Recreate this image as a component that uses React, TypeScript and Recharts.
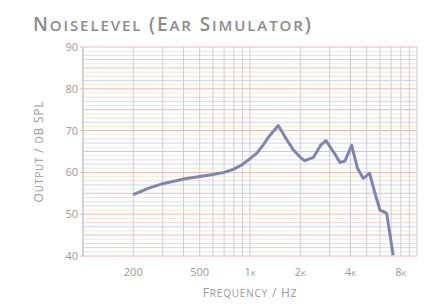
import { LineChart, Line, XAxis, YAxis, ReferenceLine } from "recharts";

const freqs = [200, 250, 300, 350, 400, 500, 600, 700, 800, 900, 1000, 1100, 1200, 1300, 1477, 1650, 1810, 2000, 2130, 2400, 2650, 2850, 3150, 3460, 3700, 4060, 4400, 4760, 5000, 5200, 5600, 6000, 6300, 6580, 7200];
const levels = [54.7, 56.3, 57.3, 57.9, 58.4, 59.0, 59.5, 60.0, 60.8, 61.9, 63.3, 64.6, 66.6, 68.6, 71.2, 68.0, 65.5, 63.6, 62.8, 63.6, 66.5, 67.6, 65.0, 62.4, 62.7, 66.5, 61.0, 58.6, 59.2, 59.8, 55.0, 51.0, 50.6, 50.2, 40.2];

const xTicks = [200, 500, 1000, 2000, 4000, 8000];
const yTicks = [40, 50, 60, 70, 80, 90];
const gridFreqs = [100, 200, 300, 400, 500, 600, 700, 800, 900, 1000, 2000, 3000, 4000, 5000, 6000, 7000, 8000, 9000, 10000];
const gridDb = Array.from({ length: 51 }, (_, i) => 40 + i);

// faint multi-coloured dB rulings, repeating every 5 dB
const hColors = ["#f0b8c2", "#f5edc2", "#c6daf0", "#f4d6dc", "#eef0cc"];

const data = freqs.map((f, i) => ({ f, db: levels[i] }));

const font = "'Open Sans', sans-serif";
const grey = "#9a9a9a";

const fmtFreq = (v: number) => (v >= 1000 ? `${v / 1000}k` : String(v));

// fake small caps: capitals stay big, lower case letters become smaller capitals
function splitCaps(s: string) {
  const parts: { t: string; big: boolean }[] = [];
  for (const ch of s) {
    const big = ch !== ch.toLowerCase() || !/[a-z]/.test(ch);
    const last = parts[parts.length - 1];
    if (last && last.big === big) last.t += big ? ch : ch.toUpperCase();
    else parts.push({ t: big ? ch : ch.toUpperCase(), big });
  }
  return parts;
}

function CapsText({ text, x, y, big, small, angle = 0 }: { text: string; x: number; y: number; big: number; small: number; angle?: number }) {
  return (
    <text
      x={x}
      y={y}
      textAnchor="middle"
      fill={grey}
      fontFamily={font}
      letterSpacing={0.8}
      transform={angle ? `rotate(${angle} ${x} ${y})` : undefined}
    >
      {splitCaps(text).map((p, i) => (
        <tspan key={i} fontSize={p.big ? big : small}>
          {p.t}
        </tspan>
      ))}
    </text>
  );
}

export default function App() {
  return (
    <div style={{ position: "absolute", left: 0, top: 0, width: 445, height: 305, background: "#fff", fontFamily: font }}>
      <div
        style={{
          position: "absolute",
          left: 33,
          top: 11,
          color: "#8c8c8c",
          fontWeight: 600,
          whiteSpace: "nowrap",
          letterSpacing: 1.9,
        }}
      >
        {splitCaps("Noiselevel (Ear Simulator)").map((p, i) => (
          <span key={i} style={{ fontSize: p.big ? 19 : 15 }}>
            {p.t}
          </span>
        ))}
      </div>
      <LineChart width={445} height={305} data={data} margin={{ top: 47, right: 28, bottom: 19, left: 43 }}>
        {gridDb.map((d) => (
          <ReferenceLine key={"h" + d} y={d} stroke={hColors[d % 5]} strokeWidth={1} />
        ))}
        {gridFreqs.map((f) => (
          <ReferenceLine key={"v" + f} x={f} stroke="#d2c9d6" strokeWidth={1} />
        ))}
        <XAxis
          dataKey="f"
          type="number"
          scale="log"
          domain={[100, 10000]}
          allowDataOverflow
          ticks={xTicks}
          tickFormatter={fmtFreq}
          height={30}
          axisLine={false}
          tickLine={false}
          tick={{ fontSize: 11, fill: grey, fontFamily: font, fontVariant: "small-caps" }}
          tickMargin={6}
          label={({ viewBox }: any) => (
            <CapsText text="Frequency / Hz" x={viewBox.x + viewBox.width / 2} y={297} big={12} small={10} />
          )}
        />
        <YAxis
          type="number"
          domain={[40, 90]}
          ticks={yTicks}
          width={40}
          axisLine={{ stroke: "#c4c4c4" }}
          tickLine={{ stroke: "#c4c4c4" }}
          tickSize={3}
          tick={{ fontSize: 11, fill: grey, fontFamily: font }}
          label={({ viewBox }: any) => (
            <CapsText text="Output / dB SPL" x={43} y={viewBox.y + viewBox.height / 2} big={12} small={10} angle={-90} />
          )}
        />
        <Line
          type="linear"
          dataKey="db"
          stroke="#7d84b8"
          strokeWidth={3}
          strokeLinejoin="round"
          dot={false}
          isAnimationActive={false}
        />
      </LineChart>
    </div>
  );
}
